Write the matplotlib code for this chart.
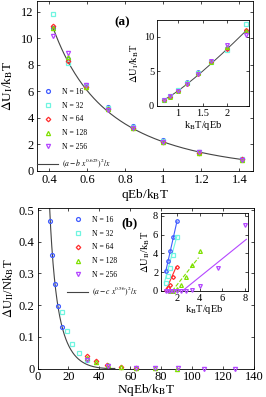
import numpy as np
import matplotlib
matplotlib.use('Agg')
import matplotlib.pyplot as plt
from matplotlib.ticker import FormatStrFormatter
from matplotlib.lines import Line2D

plt.rcParams['font.family'] = ['Liberation Serif', 'DejaVu Serif']
plt.rcParams['mathtext.fontset'] = 'stix'

# ---- panel (a) data ----
qeb_a = [0.42, 0.5, 0.595, 0.707, 0.841, 1.0, 1.19, 1.414]
du1_16 = [10.8, 8.4, 6.5, 4.85, 3.4, 2.3, 1.45, 0.92]
du1_32 = [11.8, 8.1, 6.4, 4.75, 3.3, 2.25, 1.4, 0.88]
du1_64 = [10.95, 8.25, 6.3, 4.65, 3.2, 2.15, 1.35, 0.9]
du1_128 = [10.8, 8.55, 6.35, 4.7, 3.25, 2.2, 1.35, 0.82]
du1_256 = [10.2, 8.85, 6.5, 4.6, 3.2, 2.2, 1.4, 0.82]
fit_a = (3.03, 1.55, 0.625)  # a, b, exponent

# ---- panel (b) data: qEb/kBT and dU_II/kBT per chain length ----
q_16 = [0.5, 0.595, 0.707, 0.841, 1.0]
du2_16 = [7.45, 5.75, 4.25, 3.15, 2.1]
q_32 = [0.5, 0.595, 0.707, 0.841, 1.0]
du2_32 = [5.7, 3.8, 2.5, 1.6, 0.9]
q_64 = [0.5, 0.595, 0.707, 0.841, 1.0]
du2_64 = [2.55, 1.45, 0.65, 0.3, 0.1]
q_128 = [0.25, 0.297, 0.354, 0.42, 0.5, 0.595, 0.707]
du2_128 = [4.25, 2.75, 1.5, 0.6, 0.2, 0.05, 0.0]
q_256 = [0.125, 0.177, 0.25, 0.297, 0.354, 0.42, 0.5, 0.595, 0.707, 0.841, 1.0]
du2_256 = [7.0, 2.4, 0.5, 0.1, 0.05, 0.0, 0.0, 0.0, 0.0, 0.0, 0.0]
fit_b = (3.13, 0.358, 0.56)  # a, c, exponent

# linear fits drawn in inset (b): (x0, x1), (y0, y1)
lin_16 = ([1.0, 2.0], [2.0, 7.4])
lin_32 = ([0.9, 2.0], [0.9, 5.85])
lin_64 = ([1.0, 1.95], [0.0, 2.6])
lin_128 = ([1.58, 3.9], [0.0, 3.55])
lin_256 = ([2.47, 8.1], [0.0, 5.5])

Ns = [16, 32, 64, 128, 256]
colors = ['#3f5bff', '#6ff5e0', '#ff2b2b', '#7ee000', '#b447ff']
markers = ['o', 's', 'D', '^', 'v']
msizes = [2.8, 2.6, 2.3, 3.0, 3.0]

du1 = [du1_16, du1_32, du1_64, du1_128, du1_256]
qb = [q_16, q_32, q_64, q_128, q_256]
du2 = [du2_16, du2_32, du2_64, du2_128, du2_256]
lins = [lin_16, lin_32, lin_64, lin_128, lin_256]

W, H = 266, 397
fig = plt.figure(figsize=(W / 100, H / 100), dpi=100)


def box(l, t, r, b):
    return [l / W, 1 - b / H, (r - l) / W, (b - t) / H]


def style(ax, size):
    ax.tick_params(direction='in', top=True, right=True, length=2.5,
                   width=0.5, labelsize=size, pad=2)
    for s in ax.spines.values():
        s.set_linewidth(0.6)


def mk(ax, x, y, i, ms=None):
    ax.plot(x, y, ls='none', marker=markers[i], ms=ms or msizes[i],
            mfc='none', mec=colors[i], mew=0.9, clip_on=False, zorder=3)


# ---------- panel (a) ----------
ax1 = fig.add_axes(box(36.5, 1, 253.5, 171))
xa = np.array(qeb_a)
for i in range(5):
    mk(ax1, xa, du1[i], i)
xc = np.linspace(0.42, 1.414, 200)
a, b, p = fit_a
ax1.plot(xc, (a - b * xc ** p) ** 2 / xc, color='#444444', lw=0.8, zorder=2)
ax1.set_xlim(0.333, 1.474)
ax1.set_ylim(0, 12.8)
ax1.set_xticks([0.4, 0.6, 0.8, 1.0, 1.2, 1.4])
ax1.set_yticks(range(0, 13, 2))
ax1.xaxis.set_major_formatter(FormatStrFormatter('%g'))
style(ax1, 9)
ax1.set_xlabel(r'qEb/k$_\mathrm{B}$T', fontsize=9.5, labelpad=1)
ax1.set_ylabel(r'$\Delta$U$_\mathrm{I}$/k$_\mathrm{B}$T', fontsize=9.5)
ax1.yaxis.set_label_coords(-0.1, 0.5)
fig.text(121.7 / W, 1 - 22.7 / H, '(a)', fontsize=9.5, fontweight='bold',
         ha='center', va='center')

h = [Line2D([], [], ls='none', marker=markers[i], ms=msizes[i], mfc='none',
            mec=colors[i], mew=0.9) for i in range(5)]
h.append(Line2D([], [], color='#444444', lw=0.8))
labs = ['N = %d' % n for n in Ns]
ax1.legend(h, labs + [r'$(a-b\ x^{0.625})^2/x$'], loc='upper left',
           bbox_to_anchor=(37 / W, 1 - 88 / H), bbox_transform=fig.transFigure,
           frameon=False, fontsize=5.5, numpoints=1, handlelength=2.8,
           handletextpad=0.5, labelspacing=0.75, borderpad=0, borderaxespad=0)

# inset (a)
ax1i = fig.add_axes(box(157, 20, 249, 106))
for i in range(5):
    mk(ax1i, 1 / xa, du1[i], i, ms=msizes[i] - 0.3)
ax1i.plot(1 / xc, (a - b * xc ** p) ** 2 / xc, color='#444444', lw=0.7,
          zorder=2)
ax1i.set_xlim(0.57, 2.45)
ax1i.set_ylim(0, 12.4)
ax1i.set_xticks([1, 1.5, 2])
ax1i.set_yticks([0, 5, 10])
ax1i.xaxis.set_major_formatter(FormatStrFormatter('%g'))
style(ax1i, 7.5)
ax1i.set_xlabel(r'k$_\mathrm{B}$T/qEb', fontsize=7.5, labelpad=1)
ax1i.set_ylabel(r'$\Delta$U$_\mathrm{I}$/k$_\mathrm{B}$T', fontsize=7.5,
                labelpad=2)

# ---------- panel (b) ----------
ax2 = fig.add_axes(box(37.5, 208.5, 254, 368.5))
for i in range(5):
    nx = Ns[i] * np.array(qb[i])
    ny = np.array(du2[i]) / Ns[i]
    m = nx <= 140
    mk(ax2, nx[m], ny[m], i)
xb = np.linspace(7.8, 50, 300)
a2, c2, p2 = fit_b
ax2.plot(xb, (a2 - c2 * xb ** p2) ** 2 / xb, color='#444444', lw=0.8,
         zorder=2)
ax2.set_xlim(0, 140)
ax2.set_ylim(0, 0.505)
ax2.set_xticks(range(0, 141, 20))
ax2.set_yticks([0, 0.1, 0.2, 0.3, 0.4, 0.5])
ax2.yaxis.set_major_formatter(FormatStrFormatter('%g'))
style(ax2, 9)
ax2.set_xlabel(r'NqEb/k$_\mathrm{B}$T', fontsize=9.5, labelpad=-1)
ax2.set_ylabel(r'$\Delta$U$_\mathrm{II}$/Nk$_\mathrm{B}$T', fontsize=9)
ax2.yaxis.set_label_coords(-0.1, 0.5)
fig.text(130 / W, 1 - 223.3 / H, '(b)', fontsize=9.5, fontweight='bold',
         ha='center', va='center')
ax2.legend(h, labs + [r'$(a-c\ x^{0.56})^2/x$'], loc='upper left',
           bbox_to_anchor=(67 / W, 1 - 216 / H), bbox_transform=fig.transFigure,
           frameon=False, fontsize=5.5, numpoints=1, handlelength=2.8,
           handletextpad=0.5, labelspacing=0.75, borderpad=0, borderaxespad=0)

# inset (b)
ax2i = fig.add_axes(box(161, 213, 247.5, 291))
for i in range(5):
    mk(ax2i, 1 / np.array(qb[i]), du2[i], i, ms=msizes[i] - 0.3)
    ax2i.plot(lins[i][0], lins[i][1], color=colors[i], lw=0.8,
              ls='--' if i == 3 else '-', zorder=2)
ax2i.set_xlim(0.6, 8.2)
ax2i.set_ylim(0, 8.3)
ax2i.set_xticks([2, 4, 6, 8])
ax2i.set_yticks([0, 2, 4, 6, 8])
style(ax2i, 7.5)
ax2i.set_xlabel(r'k$_\mathrm{B}$T/qEb', fontsize=7.5, labelpad=0)
ax2i.set_ylabel(r'$\Delta$U$_\mathrm{II}$/k$_\mathrm{B}$T', fontsize=7.5,
                labelpad=1)

fig.savefig('out.png', dpi=100)
